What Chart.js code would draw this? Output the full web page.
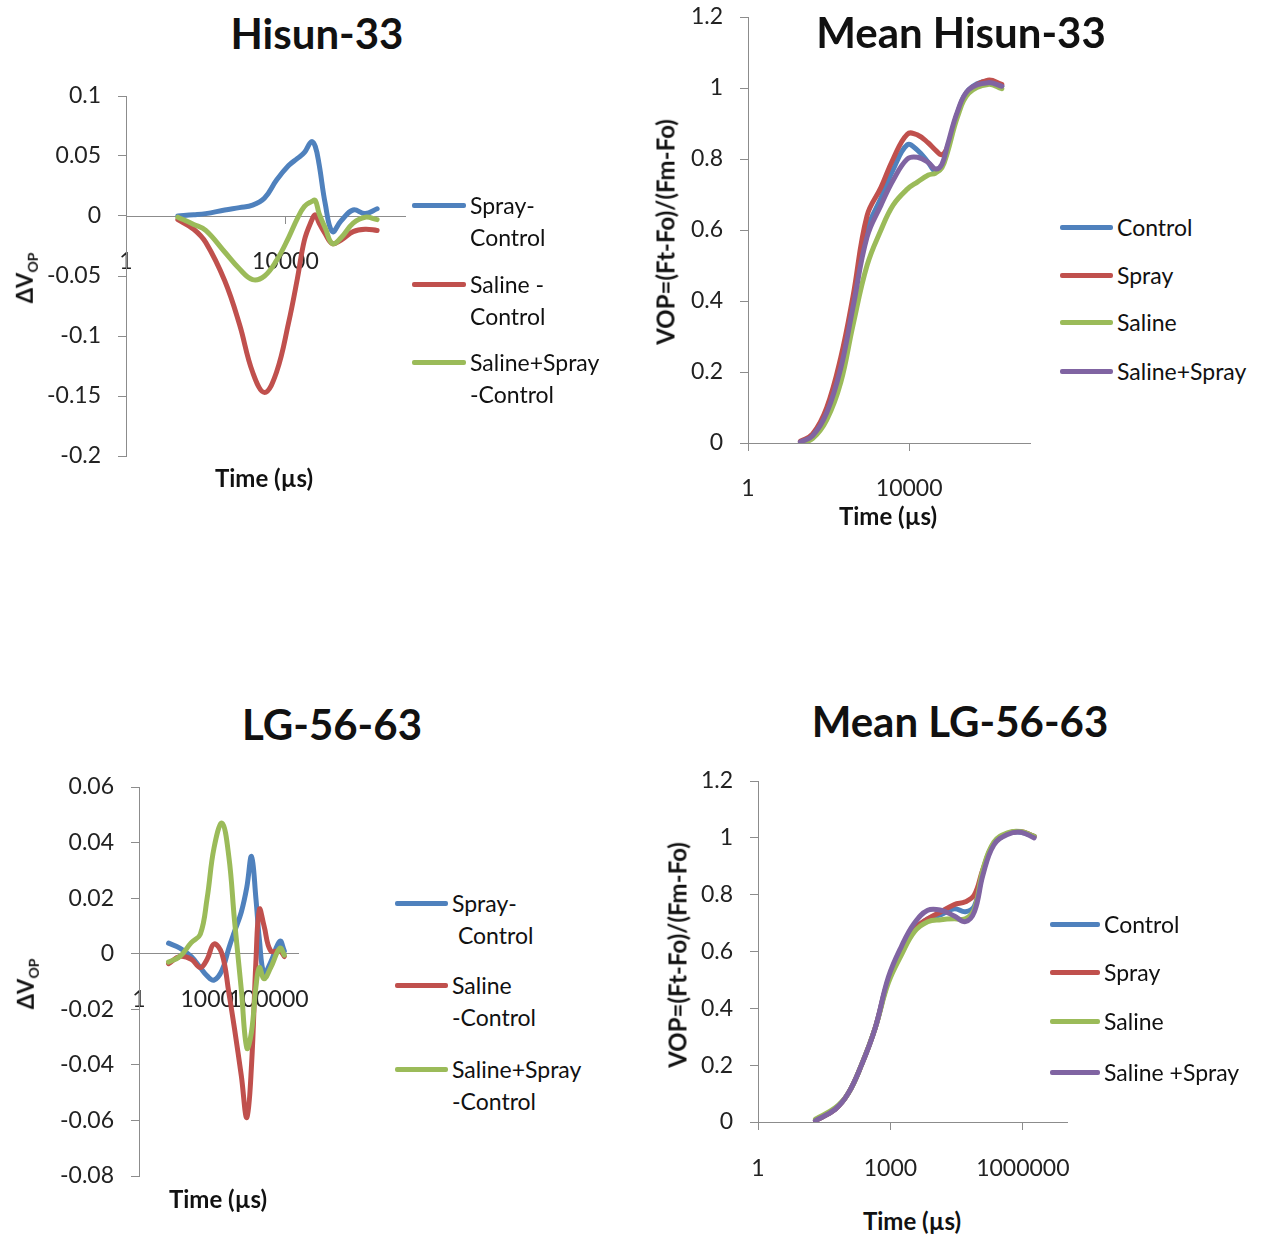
<!DOCTYPE html>
<html>
<head>
<meta charset="utf-8">
<script src="https://cdn.jsdelivr.net/npm/chart.js@4.4.1/dist/chart.umd.min.js"></script>
<style>
  body { margin: 0; background: #fff; font-family: Lato, sans-serif; color: #111; }
  #page { position: relative; width: 1269px; height: 1236px; overflow: hidden; }
  canvas { position: absolute; }
  .title { position: absolute; font-weight: bold; font-size: 42px; transform: translate(-50%, -50%); white-space: nowrap; }
  .xt { position: absolute; font-weight: bold; font-size: 24px; transform: translate(-50%, -50%); white-space: nowrap; }
  .yt { position: absolute; font-weight: bold; font-size: 24px; transform: translate(-50%, -50%) rotate(-90deg); white-space: nowrap; }
  .yt.d { font-size: 22px; }
  .yt sub { font-size: 14px; }
  .leg { position: absolute; font-size: 23px; line-height: 32px; white-space: nowrap; }
  .sw { position: absolute; height: 5px; border-radius: 2px; }
</style>
</head>
<body>
<div id="page">
  <canvas id="c1" width="415" height="390" style="left:0;top:80px"></canvas>
  <canvas id="c2" width="402" height="505" style="left:640px;top:0"></canvas>
  <canvas id="c3" width="308" height="430" style="left:0;top:760px"></canvas>
  <canvas id="c4" width="429" height="422" style="left:650px;top:760px"></canvas>

  <div class="title" style="left:317px;top:33px">Hisun-33</div>
  <div class="title" style="left:961px;top:32px">Mean Hisun-33</div>
  <div class="title" style="left:332px;top:724px">LG-56-63</div>
  <div class="title" style="left:960px;top:721px">Mean LG-56-63</div>

  <div class="xt" style="left:264px;top:477px">Time (µs)</div>
  <div class="xt" style="left:888px;top:515px">Time (µs)</div>
  <div class="xt" style="left:218px;top:1198px">Time (µs)</div>
  <div class="xt" style="left:912px;top:1220px">Time (µs)</div>

  <div class="yt d" style="left:26px;top:278px">ΔV<sub>OP</sub></div>
  <div class="yt" style="left:665px;top:232px">VOP=(Ft-Fo)/(Fm-Fo)</div>
  <div class="yt d" style="left:27px;top:984px">ΔV<sub>OP</sub></div>
  <div class="yt" style="left:677px;top:955px">VOP=(Ft-Fo)/(Fm-Fo)</div>
</div>

<script>
const BLUE = '#4F81BD';
const RED = '#C0504D';
const GREEN = '#9BBB59';
const PURPLE = '#8064A2';
const AXIS = '#8c8c8c';

// Hisun-33, difference curves
const hisunDiffTime = [20, 50, 100, 300, 700, 1500, 3000, 6000, 12000, 20000, 30000, 45000, 56000, 70000, 100000, 150000, 250000, 500000, 1000000, 2000000];
const hisunSprayDiff = [0, 0.001, 0.002, 0.005, 0.007, 0.009, 0.015, 0.03, 0.042, 0.048, 0.053, 0.062, 0.058, 0.043, 0.01, -0.013, -0.004, 0.005, 0.002, 0.006];
const hisunSalineDiff = [-0.003, -0.011, -0.022, -0.054, -0.09, -0.13, -0.147, -0.13, -0.089, -0.052, -0.02, -0.004, 0.001, -0.006, -0.015, -0.023, -0.02, -0.013, -0.011, -0.012];
const hisunBothDiff = [-0.001, -0.007, -0.012, -0.03, -0.044, -0.053, -0.05, -0.037, -0.018, -0.002, 0.008, 0.012, 0.013, 0.002, -0.01, -0.023, -0.018, -0.006, -0.001, -0.003];

// Mean Hisun-33
const hisunTime = [20, 40, 90, 200, 400, 900, 2000, 4000, 9000, 16000, 30000, 45000, 65000, 90000, 160000, 300000, 900000, 2000000];
const hisunControl = [0.003, 0.02, 0.09, 0.22, 0.39, 0.6, 0.69, 0.77, 0.84, 0.825, 0.79, 0.765, 0.78, 0.83, 0.93, 0.995, 1.02, 1.005];
const hisunSpray = [0.005, 0.025, 0.1, 0.24, 0.41, 0.64, 0.72, 0.8, 0.87, 0.868, 0.845, 0.825, 0.812, 0.835, 0.93, 0.99, 1.022, 1.01];
const hisunSaline = [0, 0.012, 0.065, 0.17, 0.33, 0.5, 0.6, 0.67, 0.715, 0.735, 0.755, 0.76, 0.775, 0.82, 0.92, 0.985, 1.01, 0.998];
const hisunBoth = [0.003, 0.02, 0.085, 0.21, 0.38, 0.58, 0.67, 0.74, 0.8, 0.805, 0.79, 0.772, 0.785, 0.84, 0.935, 0.995, 1.015, 1.005];

// LG-56-63, difference curves
const lgDiffTime = [20, 63, 200, 500, 1000, 2000, 4500, 9000, 16000, 32000, 56000, 90000, 140000, 200000, 320000, 630000, 1600000, 2500000];
const lgSprayDiff = [0.0038, 0.002, -0.001, -0.005, -0.008, -0.0095, -0.006, 0.002, 0.008, 0.015, 0.024, 0.035, 0.02, 0.005, -0.007, -0.003, 0.0045, 0.001];
const lgSalineDiff = [-0.0036, -0.001, -0.002, -0.005, -0.002, 0.0035, 0, -0.014, -0.027, -0.044, -0.059, -0.04, -0.003, 0.016, 0.01, 0.001, 0.001, -0.001];
const lgBothDiff = [-0.003, -0.001, 0.004, 0.007, 0.02, 0.038, 0.047, 0.035, 0.012, -0.013, -0.034, -0.028, -0.012, -0.005, -0.009, -0.005, 0.002, -0.0005];

// Mean LG-56-63
const lgTime = [20, 56, 110, 220, 450, 900, 1800, 3500, 7000, 14000, 28000, 50000, 80000, 125000, 220000, 450000, 900000, 1800000];
const lgControl = [0.005, 0.045, 0.1, 0.2, 0.33, 0.5, 0.6, 0.675, 0.715, 0.73, 0.75, 0.74, 0.76, 0.88, 0.98, 1.015, 1.02, 1.005];
const lgSpray = [0.005, 0.045, 0.1, 0.2, 0.33, 0.5, 0.6, 0.68, 0.715, 0.74, 0.765, 0.775, 0.8, 0.89, 0.98, 1.015, 1.022, 1.005];
const lgSaline = [0.01, 0.05, 0.1, 0.2, 0.33, 0.49, 0.59, 0.67, 0.705, 0.712, 0.715, 0.715, 0.75, 0.89, 0.985, 1.018, 1.022, 1.005];
const lgBoth = [0.005, 0.045, 0.1, 0.2, 0.33, 0.51, 0.62, 0.7, 0.745, 0.745, 0.725, 0.705, 0.74, 0.87, 0.975, 1.012, 1.02, 1.0];

const tickFont = { family: 'Lato', size: 23 };

const toPoints = (times, values) => times.map((t, i) => ({ x: t, y: values[i] }));

const makeChart = (id, times, series, cfg) => {
    const datasets = series.map((s, i) => ({
        label: s.label,
        data: toPoints(times, s.values),
        borderColor: s.colour,
        backgroundColor: s.colour,
        order: series.length - 1 - i
    }));

    return new Chart(document.getElementById(id), {
        type: 'line',
        data: { datasets },
        options: {
            responsive: false,
            animation: false,
            layout: { padding: cfg.padding },
            plugins: { legend: { display: false }, tooltip: { enabled: false } },
            elements: {
                point: { radius: 0 },
                line: { borderWidth: 5, tension: 0.4, borderCapStyle: 'round' }
            },
            scales: {
                x: {
                    type: 'logarithmic',
                    min: 1,
                    max: 1e7,
                    position: { y: 0 },
                    afterBuildTicks: (scale) => { scale.ticks = cfg.xTicks.map(v => ({ value: v })); },
                    afterFit: (scale) => { scale.paddingLeft = 0; scale.paddingRight = 0; },
                    grid: { drawOnChartArea: false, drawTicks: true, tickLength: 7, color: AXIS },
                    border: { color: AXIS, width: 1 },
                    ticks: {
                        autoSkip: false, maxRotation: 0, minRotation: 0,
                        padding: cfg.xPad, font: tickFont, color: '#222',
                        callback: (v) => String(v)
                    }
                },
                y: {
                    min: cfg.yMin,
                    max: cfg.yMax,
                    position: 'left',
                    afterFit: (scale) => { scale.width = cfg.yWidth; scale.paddingTop = 0; scale.paddingBottom = 0; },
                    grid: { drawOnChartArea: false, drawTicks: true, tickLength: 8, color: AXIS },
                    border: { color: AXIS, width: 1 },
                    ticks: {
                        stepSize: cfg.yStep, padding: 17, font: tickFont, color: '#222',
                        callback: (v) => String(Math.round(v * 1000) / 1000)
                    }
                }
            }
        }
    });
}

const addLegend = (series, x0, ys, textX) => {
    const page = document.getElementById('page');
    series.forEach((s, i) => {
        const sw = document.createElement('div');
        sw.className = 'sw';
        sw.style.left = x0 + 'px';
        sw.style.width = (textX - x0 - 4) + 'px';
        sw.style.top = (ys[i] - 2) + 'px';
        sw.style.background = s.colour;
        page.appendChild(sw);

        const txt = document.createElement('div');
        txt.className = 'leg';
        txt.style.left = textX + 'px';
        txt.style.top = (ys[i] - 16) + 'px';
        txt.innerHTML = s.lines.join('<br>');
        page.appendChild(txt);
    });
}

const hisunDiffSeries = [
    { label: 'Spray-Control', lines: ['Spray-', 'Control'], values: hisunSprayDiff, colour: BLUE },
    { label: 'Saline - Control', lines: ['Saline -', 'Control'], values: hisunSalineDiff, colour: RED },
    { label: 'Saline+Spray -Control', lines: ['Saline+Spray', '-Control'], values: hisunBothDiff, colour: GREEN }
];
const hisunSeries = [
    { label: 'Control', lines: ['Control'], values: hisunControl, colour: BLUE },
    { label: 'Spray', lines: ['Spray'], values: hisunSpray, colour: RED },
    { label: 'Saline', lines: ['Saline'], values: hisunSaline, colour: GREEN },
    { label: 'Saline+Spray', lines: ['Saline+Spray'], values: hisunBoth, colour: PURPLE }
];
const lgDiffSeries = [
    { label: 'Spray-Control', lines: ['Spray-', '&nbsp;Control'], values: lgSprayDiff, colour: BLUE },
    { label: 'Saline -Control', lines: ['Saline', '-Control'], values: lgSalineDiff, colour: RED },
    { label: 'Saline+Spray -Control', lines: ['Saline+Spray', '-Control'], values: lgBothDiff, colour: GREEN }
];
const lgSeries = [
    { label: 'Control', lines: ['Control'], values: lgControl, colour: BLUE },
    { label: 'Spray', lines: ['Spray'], values: lgSpray, colour: RED },
    { label: 'Saline', lines: ['Saline'], values: lgSaline, colour: GREEN },
    { label: 'Saline +Spray', lines: ['Saline +Spray'], values: lgBoth, colour: PURPLE }
];

window.onload = () => {
    makeChart('c1', hisunDiffTime, hisunDiffSeries, {
        padding: { top: 16, right: 10, bottom: 14, left: 0 },
        yWidth: 126, yMin: -0.2, yMax: 0.1, yStep: 0.05, xTicks: [1, 10000], xPad: 25
    });
    makeChart('c2', hisunTime, hisunSeries, {
        padding: { top: 17, right: 12, bottom: 62, left: 0 },
        yWidth: 108, yMin: 0, yMax: 1.2, yStep: 0.2, xTicks: [1, 10000], xPad: 25
    });
    makeChart('c3', lgDiffTime, lgDiffSeries, {
        padding: { top: 27, right: 10, bottom: 14, left: 0 },
        yWidth: 139, yMin: -0.08, yMax: 0.06, yStep: 0.02, xTicks: [1, 1000, 1000000], xPad: 25
    });
    makeChart('c4', lgTime, lgSeries, {
        padding: { top: 21, right: 12, bottom: 60, left: 0 },
        yWidth: 108, yMin: 0, yMax: 1.2, yStep: 0.2, xTicks: [1, 1000, 1000000], xPad: 26
    });

    addLegend(hisunDiffSeries, 412, [205, 284, 362], 470);
    addLegend(hisunSeries, 1060, [227, 275, 322, 371], 1117);
    addLegend(lgDiffSeries, 395, [903, 985, 1069], 452);
    addLegend(lgSeries, 1050, [924, 972, 1021, 1072], 1104);
}
</script>
</body>
</html>
